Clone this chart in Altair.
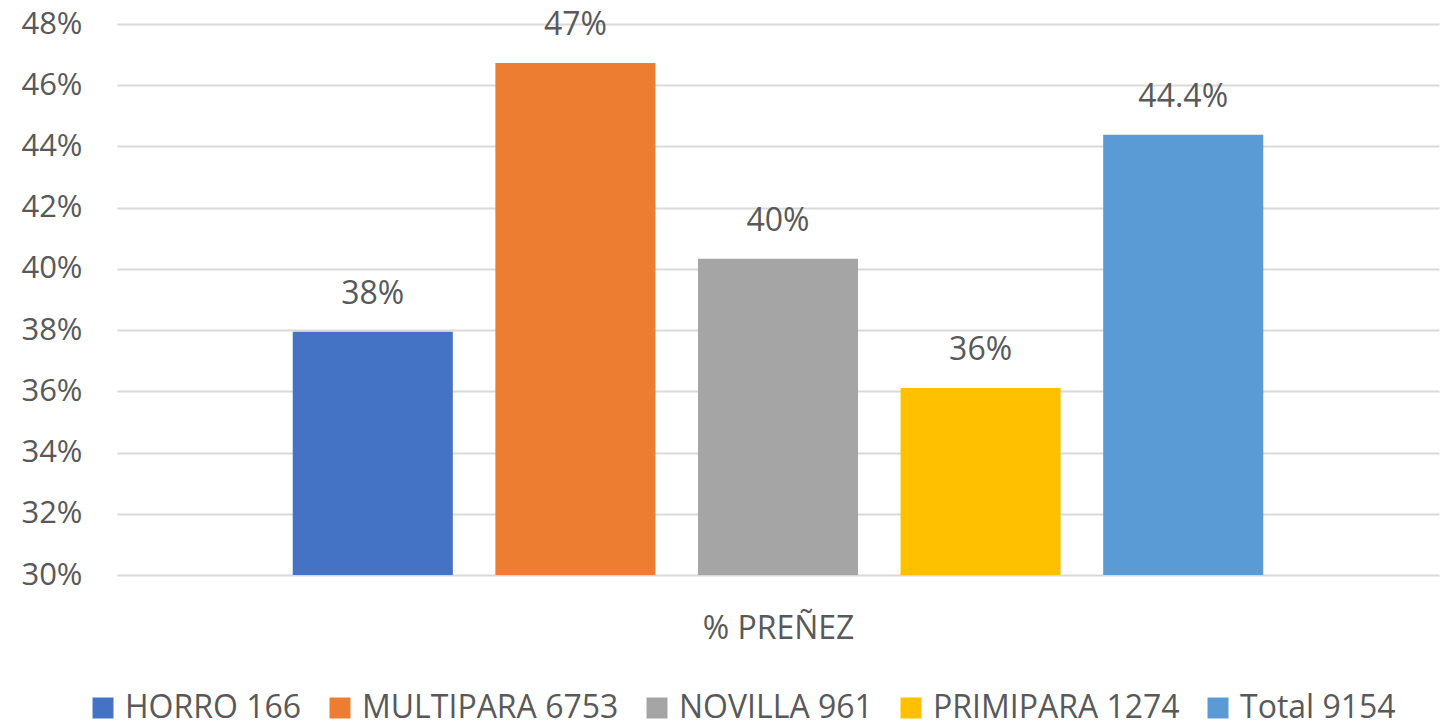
import altair as alt
import pandas as pd

series = ["HORRO 166", "MULTIPARA 6753", "NOVILLA 961", "PRIMIPARA 1274", "Total 9154"]
values = [0.3795, 0.4673, 0.4033, 0.3611, 0.4438]
labels = ["38%", "47%", "40%", "36%", "44.4%"]
colors = ["#4472C4", "#ED7D31", "#A5A5A5", "#FFC000", "#5B9BD5"]
y_ticks = [0.30, 0.32, 0.34, 0.36, 0.38, 0.40, 0.42, 0.44, 0.46, 0.48]
category = "% PREÑEZ"

df = pd.DataFrame({"series": series, "value": values, "label": labels})

FONT = "Open Sans"
GREY = "#595959"

x_enc = alt.X(
    "series:N",
    sort=series,
    scale=alt.Scale(paddingInner=0.21, paddingOuter=0.8675),
    axis=alt.Axis(
        title=category, labels=False, ticks=False, domain=False,
        titlePadding=38, titleFont=FONT, titleFontSize=32,
        titleFontWeight="normal", titleColor=GREY,
    ),
)
y_enc = alt.Y(
    "value:Q",
    scale=alt.Scale(domain=[0.30, 0.48], zero=False, nice=False),
    axis=alt.Axis(
        title=None, values=y_ticks, format=".0%", ticks=False, domain=False,
        labelPadding=35, labelFont=FONT, labelFontSize=31, labelColor=GREY,
        gridColor="#D9D9D9", gridWidth=2,
    ),
)

bars = alt.Chart(df).mark_bar().encode(
    x=x_enc,
    y=y_enc,
    y2=alt.datum(0.30),
    color=alt.Color(
        "series:N",
        sort=series,
        scale=alt.Scale(domain=series, range=colors),
        legend=alt.Legend(
            title=None, orient="none", direction="horizontal", columns=5,
            legendX=-30, legendY=668, padding=0,
            symbolType="square", symbolSize=441, symbolStrokeWidth=0,
            symbolOpacity=1,
            labelFont=FONT, labelFontSize=32, labelColor=GREY, labelOffset=6,
            columnPadding=22, labelLimit=400,
        ),
    ),
)

text = alt.Chart(df).mark_text(
    font=FONT, fontSize=32, color=GREY, baseline="alphabetic", dy=-28
).encode(
    x=alt.X("series:N", sort=series),
    y=alt.Y("value:Q"),
    text="label:N",
)

chart = (
    alt.layer(bars, text)
    .properties(
        width=1322, height=551,
        autosize=alt.AutoSizeParams(type="none"),
        padding={"left": 109, "top": 16, "right": 3, "bottom": 149},
    )
    .configure_view(stroke=None)
)

chart.save("out.html", embed_options={"renderer": "svg", "actions": False})
